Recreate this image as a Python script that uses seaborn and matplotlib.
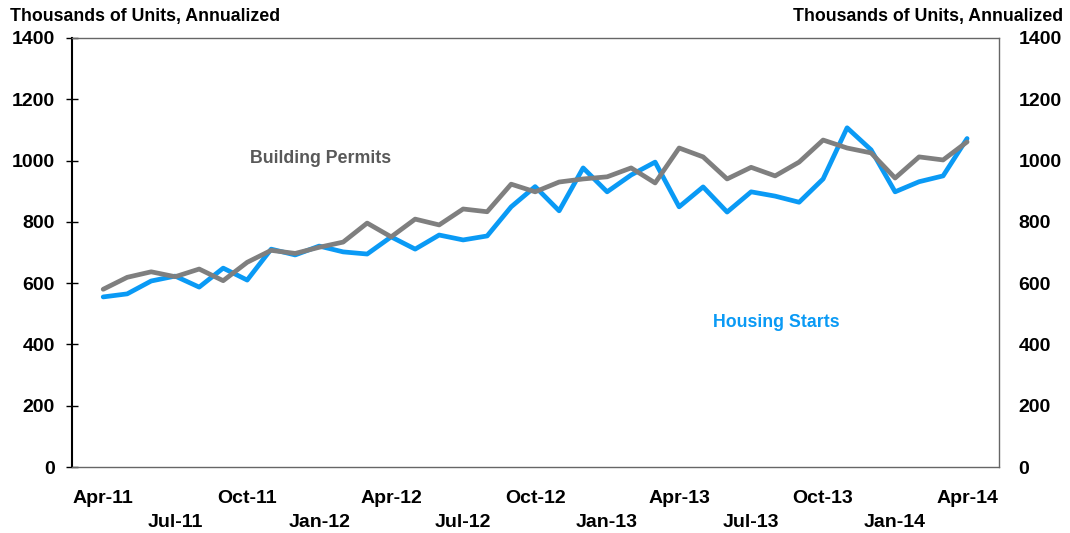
import pandas as pd
import matplotlib
matplotlib.use("Agg")
import matplotlib.pyplot as plt
import seaborn as sns

months = ['Apr-11', 'May-11', 'Jun-11', 'Jul-11', 'Aug-11', 'Sep-11', 'Oct-11', 'Nov-11', 'Dec-11',
          'Jan-12', 'Feb-12', 'Mar-12', 'Apr-12', 'May-12', 'Jun-12', 'Jul-12', 'Aug-12', 'Sep-12',
          'Oct-12', 'Nov-12', 'Dec-12', 'Jan-13', 'Feb-13', 'Mar-13', 'Apr-13', 'May-13', 'Jun-13',
          'Jul-13', 'Aug-13', 'Sep-13', 'Oct-13', 'Nov-13', 'Dec-13', 'Jan-14', 'Feb-14', 'Mar-14',
          'Apr-14']
housing_starts = [555, 565, 607, 623, 587, 649, 610, 711, 692, 721, 702, 695, 751, 711, 757, 741,
                  754, 849, 915, 836, 976, 898, 953, 995, 849, 914, 832, 898, 884, 864, 940, 1107,
                  1035, 898, 931, 950, 1072]
building_permits = [580, 619, 637, 621, 646, 608, 668, 707, 697, 717, 734, 796, 751, 809, 790, 842,
                    833, 923, 898, 930, 940, 947, 976, 927, 1041, 1012, 940, 978, 950, 995, 1067,
                    1041, 1025, 943, 1012, 1002, 1061]
yticks = [0, 200, 400, 600, 800, 1000, 1200, 1400]

blue = '#0A9AF5'
gray = '#7F7F7F'

sns.set_style('white')
plt.rcParams['font.family'] = ['Liberation Sans', 'DejaVu Sans']
plt.rcParams['font.weight'] = 'bold'
plt.rcParams['text.color'] = 'black'
plt.rcParams['xtick.color'] = 'black'
plt.rcParams['ytick.color'] = 'black'

df = pd.DataFrame({'idx': range(len(months)), 'starts': housing_starts, 'permits': building_permits})

fig = plt.figure(figsize=(10.7, 5.33), dpi=100)
ax = fig.add_axes([72 / 1070, 66 / 533, 927 / 1070, 429 / 533])

sns.lineplot(data=df, x='idx', y='starts', color=blue, linewidth=3.4, ax=ax)
sns.lineplot(data=df, x='idx', y='permits', color=gray, linewidth=3.4, ax=ax)

ax.set_xlim(-1.3, len(months) - 1 + 1.33)
ax.set_ylim(0, 1400)
ax.set_xlabel('')
ax.set_ylabel('')

# x ticks every month, labels every quarter on two staggered rows
ax.set_xticks(range(len(months)))
labels = []
for i, m in enumerate(months):
    if i % 6 == 0:
        labels.append(m)
    elif i % 3 == 0:
        labels.append('\n' + m)
    else:
        labels.append('')
ax.set_xticklabels(labels, fontsize=14, fontweight='bold', color='black')
for t in ax.get_xticklabels():
    t.set_linespacing(1.55)
ax.set_yticks(yticks)
ax.set_yticklabels([str(v) for v in yticks], fontsize=14, fontweight='bold', color='black')
ax.tick_params(axis='x', direction='inout', length=9, width=1, color='black', pad=12)
ax.tick_params(axis='y', direction='inout', length=9, width=1, color='black', pad=8)

ax.spines['left'].set_color('black')
ax.spines['left'].set_linewidth(1.5)
for side in ['bottom', 'top', 'right']:
    ax.spines[side].set_color('#666666')
    ax.spines[side].set_linewidth(1.0)
    ax.spines[side].set_visible(True)

# right-hand duplicate axis labels
ax2 = ax.twinx()
ax2.set_ylim(0, 1400)
ax2.set_yticks(yticks)
ax2.set_yticklabels([str(v) for v in yticks], fontsize=14, fontweight='bold', color='black')
ax2.tick_params(axis='y', length=0, pad=14)
for s in ax2.spines.values():
    s.set_visible(False)

ax.text(9.05, 1007, 'Building Permits', color='#595959', fontsize=12.8, fontweight='bold',
        ha='center', va='center')
ax.text(28.05, 473, 'Housing Starts', color=blue, fontsize=12.8, fontweight='bold',
        ha='center', va='center')

fig.text(10 / 1070, 1 - 17 / 533, 'Thousands of Units, Annualized', fontsize=12.8,
         fontweight='bold', ha='left', va='center')
fig.text(1063 / 1070, 1 - 17 / 533, 'Thousands of Units, Annualized', fontsize=12.8,
         fontweight='bold', ha='right', va='center')

fig.savefig('out.png', dpi=100)
